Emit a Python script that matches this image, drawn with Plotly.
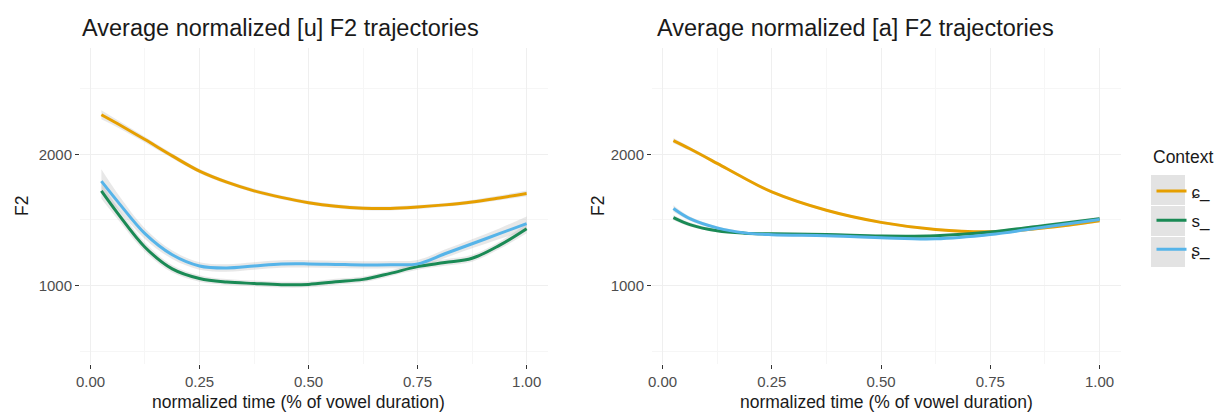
import plotly.graph_objects as go

# ---------------- data ----------------
contexts = ["ɕ_", "s_", "ʂ_"]
colors = ["#E69F00", "#1A8A55", "#56B4E9"]

u_time = [0.025, 0.0625, 0.125, 0.1875, 0.25, 0.3125, 0.375, 0.4375, 0.5,
          0.5625, 0.625, 0.6875, 0.75, 0.8125, 0.875, 0.9375, 1.0]
u_f2_c = [2301, 2232, 2112, 1988, 1872, 1788, 1722, 1672, 1632,
          1605, 1590, 1588, 1599, 1615, 1637, 1668, 1702]
u_f2_s = [1721, 1550, 1293, 1128, 1055, 1028, 1017, 1008, 1010,
          1030, 1048, 1094, 1145, 1176, 1209, 1307, 1434]
u_f2_r = [1796, 1640, 1396, 1235, 1150, 1135, 1150, 1165, 1166,
          1162, 1158, 1160, 1166, 1243, 1319, 1396, 1472]
u_ci_c = [35, 28, 22, 18, 16, 15, 15, 15, 15, 15, 15, 15, 15, 15, 16, 18, 22]
u_ci_s = [60, 45, 35, 28, 25, 22, 22, 22, 22, 22, 22, 22, 24, 25, 26, 28, 35]
u_ci_r = [90, 60, 40, 32, 28, 28, 28, 28, 28, 28, 28, 28, 30, 32, 35, 40, 55]

a_time = [0.025, 0.0625, 0.125, 0.1875, 0.25, 0.375, 0.5, 0.625, 0.75, 0.875, 1.0]
a_f2_c = [2104, 2042, 1931, 1818, 1714, 1574, 1482, 1428, 1410, 1441, 1495]
a_f2_s = [1518, 1465, 1418, 1400, 1395, 1390, 1378, 1380, 1408, 1459, 1510]
a_f2_r = [1587, 1510, 1440, 1402, 1388, 1380, 1365, 1357, 1390, 1446, 1503]
a_ci_c = [20, 15, 12, 10, 10, 10, 10, 10, 10, 12, 15]
a_ci_s = [20, 15, 12, 10, 10, 10, 10, 10, 10, 12, 15]
a_ci_r = [25, 16, 12, 10, 10, 10, 10, 10, 10, 12, 16]

x_ticks = [0.0, 0.25, 0.5, 0.75, 1.0]
x_ticklabels = ["0.00", "0.25", "0.50", "0.75", "1.00"]
y_ticks = [1000, 2000]

titles = ["Average normalized [u] F2 trajectories", "Average normalized [a] F2 trajectories"]
x_title = "normalized time (% of vowel duration)"
y_title = "F2"
legend_title = "Context"

# ---------------- figure ----------------
W, H = 1220, 412
FONT = "Liberation Sans, Arial, sans-serif"
fig = go.Figure()

panels = [
    ("x", "y", u_time, [u_f2_c, u_f2_s, u_f2_r], [u_ci_c, u_ci_s, u_ci_r]),
    ("x2", "y2", a_time, [a_f2_c, a_f2_s, a_f2_r], [a_ci_c, a_ci_s, a_ci_r]),
]

for pi, (xa, ya, t, series, cis) in enumerate(panels):
    for si, (vals, ci) in enumerate(zip(series, cis)):
        upper = [v + c for v, c in zip(vals, ci)]
        lower = [v - c for v, c in zip(vals, ci)]
        fig.add_trace(go.Scatter(x=t, y=upper, xaxis=xa, yaxis=ya, mode="lines",
                                 line=dict(width=0, shape="spline", color="rgba(0,0,0,0)"),
                                 showlegend=False, hoverinfo="skip"))
        fig.add_trace(go.Scatter(x=t, y=lower, xaxis=xa, yaxis=ya, mode="lines",
                                 line=dict(width=0, shape="spline", color="rgba(0,0,0,0)"),
                                 fill="tonexty", fillcolor="rgba(150,150,150,0.22)",
                                 showlegend=False, hoverinfo="skip"))
    for si, vals in enumerate(series):
        fig.add_trace(go.Scatter(x=t, y=vals, xaxis=xa, yaxis=ya, mode="lines",
                                 name=contexts[si], legendgroup=contexts[si],
                                 line=dict(color=colors[si], width=3, shape="spline"),
                                 showlegend=(pi == 0)))

def px_x(p):
    return p / W

def px_y(p):
    return 1 - p / H

xr = [-0.024, 1.049]
yr = [404, 2809]
grid = "#EFEFEF"
minor_grid = "#F6F6F6"
tickfont = dict(family=FONT, size=15, color="#4D4D4D")

common_x = dict(range=xr, tickvals=x_ticks, ticktext=x_ticklabels, showgrid=True,
                gridcolor=grid, gridwidth=1, zeroline=False, showline=False,
                ticks="outside", ticklen=4, tickcolor="#333333", tickwidth=1,
                tickfont=tickfont, automargin=False,
                minor=dict(tickvals=[0.125, 0.375, 0.625, 0.875], showgrid=True,
                           gridcolor=minor_grid, gridwidth=1, ticks=""))
common_y = dict(range=yr, tickvals=y_ticks, showgrid=True, gridcolor=grid, gridwidth=1,
                zeroline=False, showline=False, ticks="outside", ticklen=4,
                tickcolor="#333333", tickwidth=1, tickfont=tickfont, automargin=False,
                minor=dict(tickvals=[500, 1500, 2500], showgrid=True,
                           gridcolor=minor_grid, gridwidth=1, ticks=""))

ydom = [px_y(364), px_y(48)]
fig.update_layout(
    width=W, height=H,
    margin=dict(l=0, r=0, t=0, b=0),
    paper_bgcolor="white", plot_bgcolor="white",
    font=dict(family=FONT, color="#1A1A1A"),
    xaxis=dict(domain=[px_x(80), px_x(548)], anchor="y", **common_x),
    yaxis=dict(domain=ydom, anchor="x", **common_y),
    xaxis2=dict(domain=[px_x(652), px_x(1121)], anchor="y2", **common_x),
    yaxis2=dict(domain=ydom, anchor="x2", **common_y),
    legend=dict(x=px_x(1151.5), y=px_y(173.5), xanchor="left", yanchor="top",
                font=dict(size=17, color="#1A1A1A"), bgcolor="rgba(0,0,0,0)",
                traceorder="grouped", tracegroupgap=4, itemwidth=30),
    showlegend=True,
)

annotations = []
for i, (cx, tx) in enumerate([(80, 298), (655, 887)]):
    annotations.append(dict(text=titles[i], x=px_x(cx), y=px_y(28), xref="paper", yref="paper",
                            xanchor="left", yanchor="middle", showarrow=False,
                            font=dict(size=23.5, color="#1A1A1A")))
    annotations.append(dict(text=x_title, x=px_x(tx), y=px_y(402), xref="paper", yref="paper",
                            xanchor="center", yanchor="middle", showarrow=False,
                            font=dict(size=17.5, color="#1A1A1A")))
for yx in (22, 598):
    annotations.append(dict(text=y_title, x=px_x(yx), y=px_y(206), xref="paper", yref="paper",
                            xanchor="center", yanchor="middle", showarrow=False, textangle=-90,
                            font=dict(size=17.5, color="#1A1A1A")))
# legend title
annotations.append(dict(text=legend_title, x=px_x(1151), y=px_y(157), xref="paper", yref="paper",
                        xanchor="left", yanchor="middle", showarrow=False,
                        font=dict(size=17.5, color="#1A1A1A")))
fig.update_layout(annotations=annotations)

# grey legend key backgrounds
shapes = []
for top in (175, 206, 237):
    shapes.append(dict(type="rect", xref="paper", yref="paper",
                       x0=px_x(1151), x1=px_x(1185), y0=px_y(top + 30), y1=px_y(top),
                       fillcolor="#E3E3E3", line=dict(width=0), layer="below"))
fig.update_layout(shapes=shapes)

fig.write_html("out.html", config={"displayModeBar": False},
               post_script="document.body.style.margin='0';document.body.style.overflow='hidden';")
